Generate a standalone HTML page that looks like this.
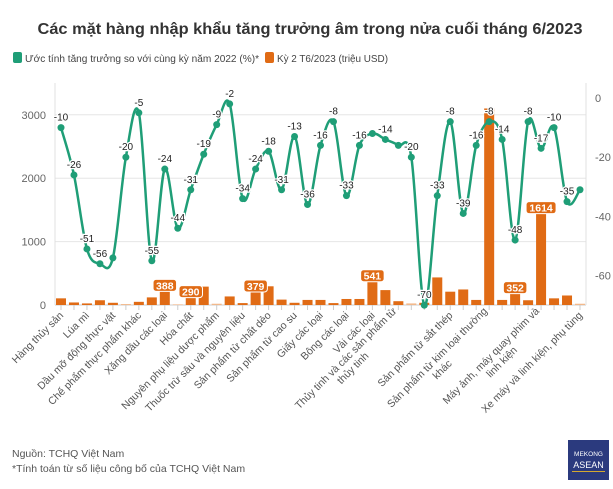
<!DOCTYPE html>
<html><head><meta charset="utf-8">
<style>
html,body{margin:0;padding:0;background:#fff;}
body{width:613px;height:484px;overflow:hidden;font-family:"Liberation Sans","DejaVu Sans",sans-serif;}
svg text{font-family:"Liberation Sans","DejaVu Sans",sans-serif;}
</style></head>
<body>
<svg id="chart" width="613" height="484" xmlns="http://www.w3.org/2000/svg">
<text x="310" y="34" text-anchor="middle" font-size="16" font-weight="bold" fill="#333" textLength="545" lengthAdjust="spacingAndGlyphs">Các mặt hàng nhập khẩu tăng trưởng âm trong nửa cuối tháng 6/2023</text>
<g>
<rect x="13" y="52" width="9" height="11" rx="2" fill="#1f9e77"/>
<text x="25" y="62" font-size="10.5" fill="#444" textLength="234" lengthAdjust="spacingAndGlyphs">Ước tính tăng trưởng so với cùng kỳ năm 2022 (%)*</text>
<rect x="265" y="52" width="9" height="11" rx="2" fill="#e06b15"/>
<text x="277" y="62" font-size="10.5" fill="#444" textLength="111" lengthAdjust="spacingAndGlyphs">Kỳ 2 T6/2023 (triệu USD)</text>
</g>
<g id="grid"></g><g id="bars"></g><g id="line"></g><g id="labels"></g><g id="xlabels"></g>
<text x="12" y="457" font-size="10.5" fill="#555">Nguồn: TCHQ Việt Nam</text>
<text x="12" y="472" font-size="10.5" fill="#555">*Tính toán từ số liệu công bố của TCHQ Việt Nam</text>
<g>
<rect x="568" y="440" width="41" height="40" fill="#2b3a7e"/>
<text x="588.5" y="456" text-anchor="middle" font-size="6.5" fill="#fff" font-family="Liberation Serif">MEKONG</text>
<text x="588.5" y="468" text-anchor="middle" font-size="9" fill="#fff" font-family="Liberation Serif">ASEAN</text>
<rect x="572" y="471" width="33" height="1" fill="#d4a830"/>
</g>
</svg>
<script>
const categories=["Hàng thủy sản","c1","Lúa mì","c3","Dầu mỡ động thực vật","c5","Chế phẩm thực phẩm khác","c7","Xăng dầu các loại","c9","Hóa chất","c11","Nguyên phụ liệu dược phẩm","c13","Thuốc trừ sâu và nguyên liệu","c15","Sản phẩm từ chất dẻo","c17","Sản phẩm từ cao su","c19","Giấy các loại","c21","Bông các loại","c23","Vải các loại","c25","Thủy tinh và các sản phẩm từ|thủy tinh","c27","c28","c29","Sản phẩm từ sắt thép","c31","c32","Sản phẩm từ kim loại thường|khác","c34","c35","c36","Máy ảnh, máy quay phim và|linh kiện","c38","c39","Xe máy và linh kiện, phụ tùng"];
const shownLabels=[0,2,4,6,8,10,12,14,16,18,20,22,24,26,30,33,37,40];
const valueUSD=[105,40,25,75,35,15,50,120,388,10,290,290,20,135,30,379,295,85,35,80,80,30,95,95,541,235,60,25,35,435,210,245,80,3100,80,352,75,1614,105,150,20];
const growth=[-10,-26,-51,-56,-54,-20,-5,-55,-24,-44,-31,-19,-9,-2,-34,-24,-18,-31,-13,-36,-16,-8,-33,-16,-12,-14,-16,-20,-70,-33,-8,-39,-16,-8,-14,-48,-8,-17,-10,-35,-31];
const hiddenGrowthLabels=[4,24,26,40];
const labeledBars=[8,10,15,24,35,37];
const fadedBars=[5,9,12,27,40];
const leftTicks=[0,1000,2000,3000];
const rightTicks=[0,-20,-40,-60];

const NS="http://www.w3.org/2000/svg";
const xS=i=>61+i*12.975;
const yL=v=>305-v*0.0634;
const yR=v=>98-v*2.96;
function mk(tag,attrs,parent,txt){const e=document.createElementNS(NS,tag);for(const k in attrs)e.setAttribute(k,attrs[k]);if(txt!==undefined)e.textContent=txt;document.getElementById(parent).appendChild(e);return e;}

leftTicks.forEach(t=>{
  const g=mk('line',{x1:55,x2:586,y1:yL(t),y2:yL(t),stroke:t===0?'#ccc':'#e6e6e6','stroke-width':1},'grid');
  
  
  const l=mk('text',{x:46,y:yL(t)+4,'text-anchor':'end','font-size':11,fill:'#666'},'grid',String(t));
  
  
});
rightTicks.forEach(t=>{
  const l=mk('text',{x:595,y:yR(t)+4,'text-anchor':'start','font-size':11,fill:'#666'},'grid',String(t));
  
  
});
mk('line',{x1:55,x2:55,y1:83,y2:305,stroke:'#e0e0e0'},'grid');
mk('line',{x1:586,x2:586,y1:83,y2:305,stroke:'#e0e0e0'},'grid');
categories.forEach((c,i)=>{
  const t=mk('line',{x1:xS(i),x2:xS(i),y1:305,y2:310,stroke:'#ccc'},'grid');
  
  
});

valueUSD.forEach((v,i)=>{
  const b=mk('rect',{x:xS(i)-5,y:yL(v),width:10,height:305-yL(v),fill:fadedBars.includes(i)?'#f2b98c':'#e06b15'},'bars');
  
  
});
labeledBars.forEach(i=>{
  const v=valueUSD[i],s=String(v),w=s.length*6.5+4;
  const r=mk('rect',{x:xS(i)-w/2,y:yL(v)-1,width:w,height:12,rx:3,fill:'#e06b15',stroke:'#fff','stroke-width':1},'labels');
  
  
  const t=mk('text',{x:xS(i),y:yL(v)+9,'text-anchor':'middle','font-size':10.5,'font-weight':'bold',fill:'#fff'},'labels',s);
  
  
});

const pts=growth.map((v,i)=>[xS(i),yR(v)]);
let d='M'+pts[0][0]+','+pts[0][1];
for(let i=0;i<pts.length-1;i++){
  const p0=pts[Math.max(0,i-1)],p1=pts[i],p2=pts[i+1],p3=pts[Math.min(pts.length-1,i+2)];
  const c1=[p1[0]+(p2[0]-p0[0])/6,p1[1]+(p2[1]-p0[1])/6];
  const c2=[p2[0]-(p3[0]-p1[0])/6,p2[1]-(p3[1]-p1[1])/6];
  d+=` C${c1[0]},${c1[1]} ${c2[0]},${c2[1]} ${p2[0]},${p2[1]}`;
}
const path=mk('path',{d:d,fill:'none',stroke:'#1f9e77','stroke-width':2.5},'line');


pts.forEach((p,i)=>{
  const c=mk('circle',{cx:p[0],cy:p[1],r:3.5,fill:'#1f9e77'},'line');
  
  
  if(!hiddenGrowthLabels.includes(i)){
    const t=mk('text',{x:p[0],y:p[1]-7,'text-anchor':'middle','font-size':10,fill:'#222',stroke:'#fff','stroke-width':2.5,'paint-order':'stroke'},'labels',String(growth[i]));
    
    
  }
});

shownLabels.forEach(i=>{
  const lines=categories[i].split('|');
  const x=xS(i)+3,y=316;
  const t=mk('text',{transform:`translate(${x},${y}) rotate(-45)`,'text-anchor':'end','font-size':10.5,fill:'#555'},'xlabels');
  
  
  lines.forEach((ln,k)=>{
    const s=document.createElementNS(NS,'tspan');
    s.setAttribute('x',lines.length>1&&k===1?-(lines[0].length-ln.length)*2.7: 0);
    s.setAttribute('dy',k===0?(lines.length>1?-6:0):12);
    s.textContent=ln;
    t.appendChild(s);
  });
});
</script>
</body></html>
